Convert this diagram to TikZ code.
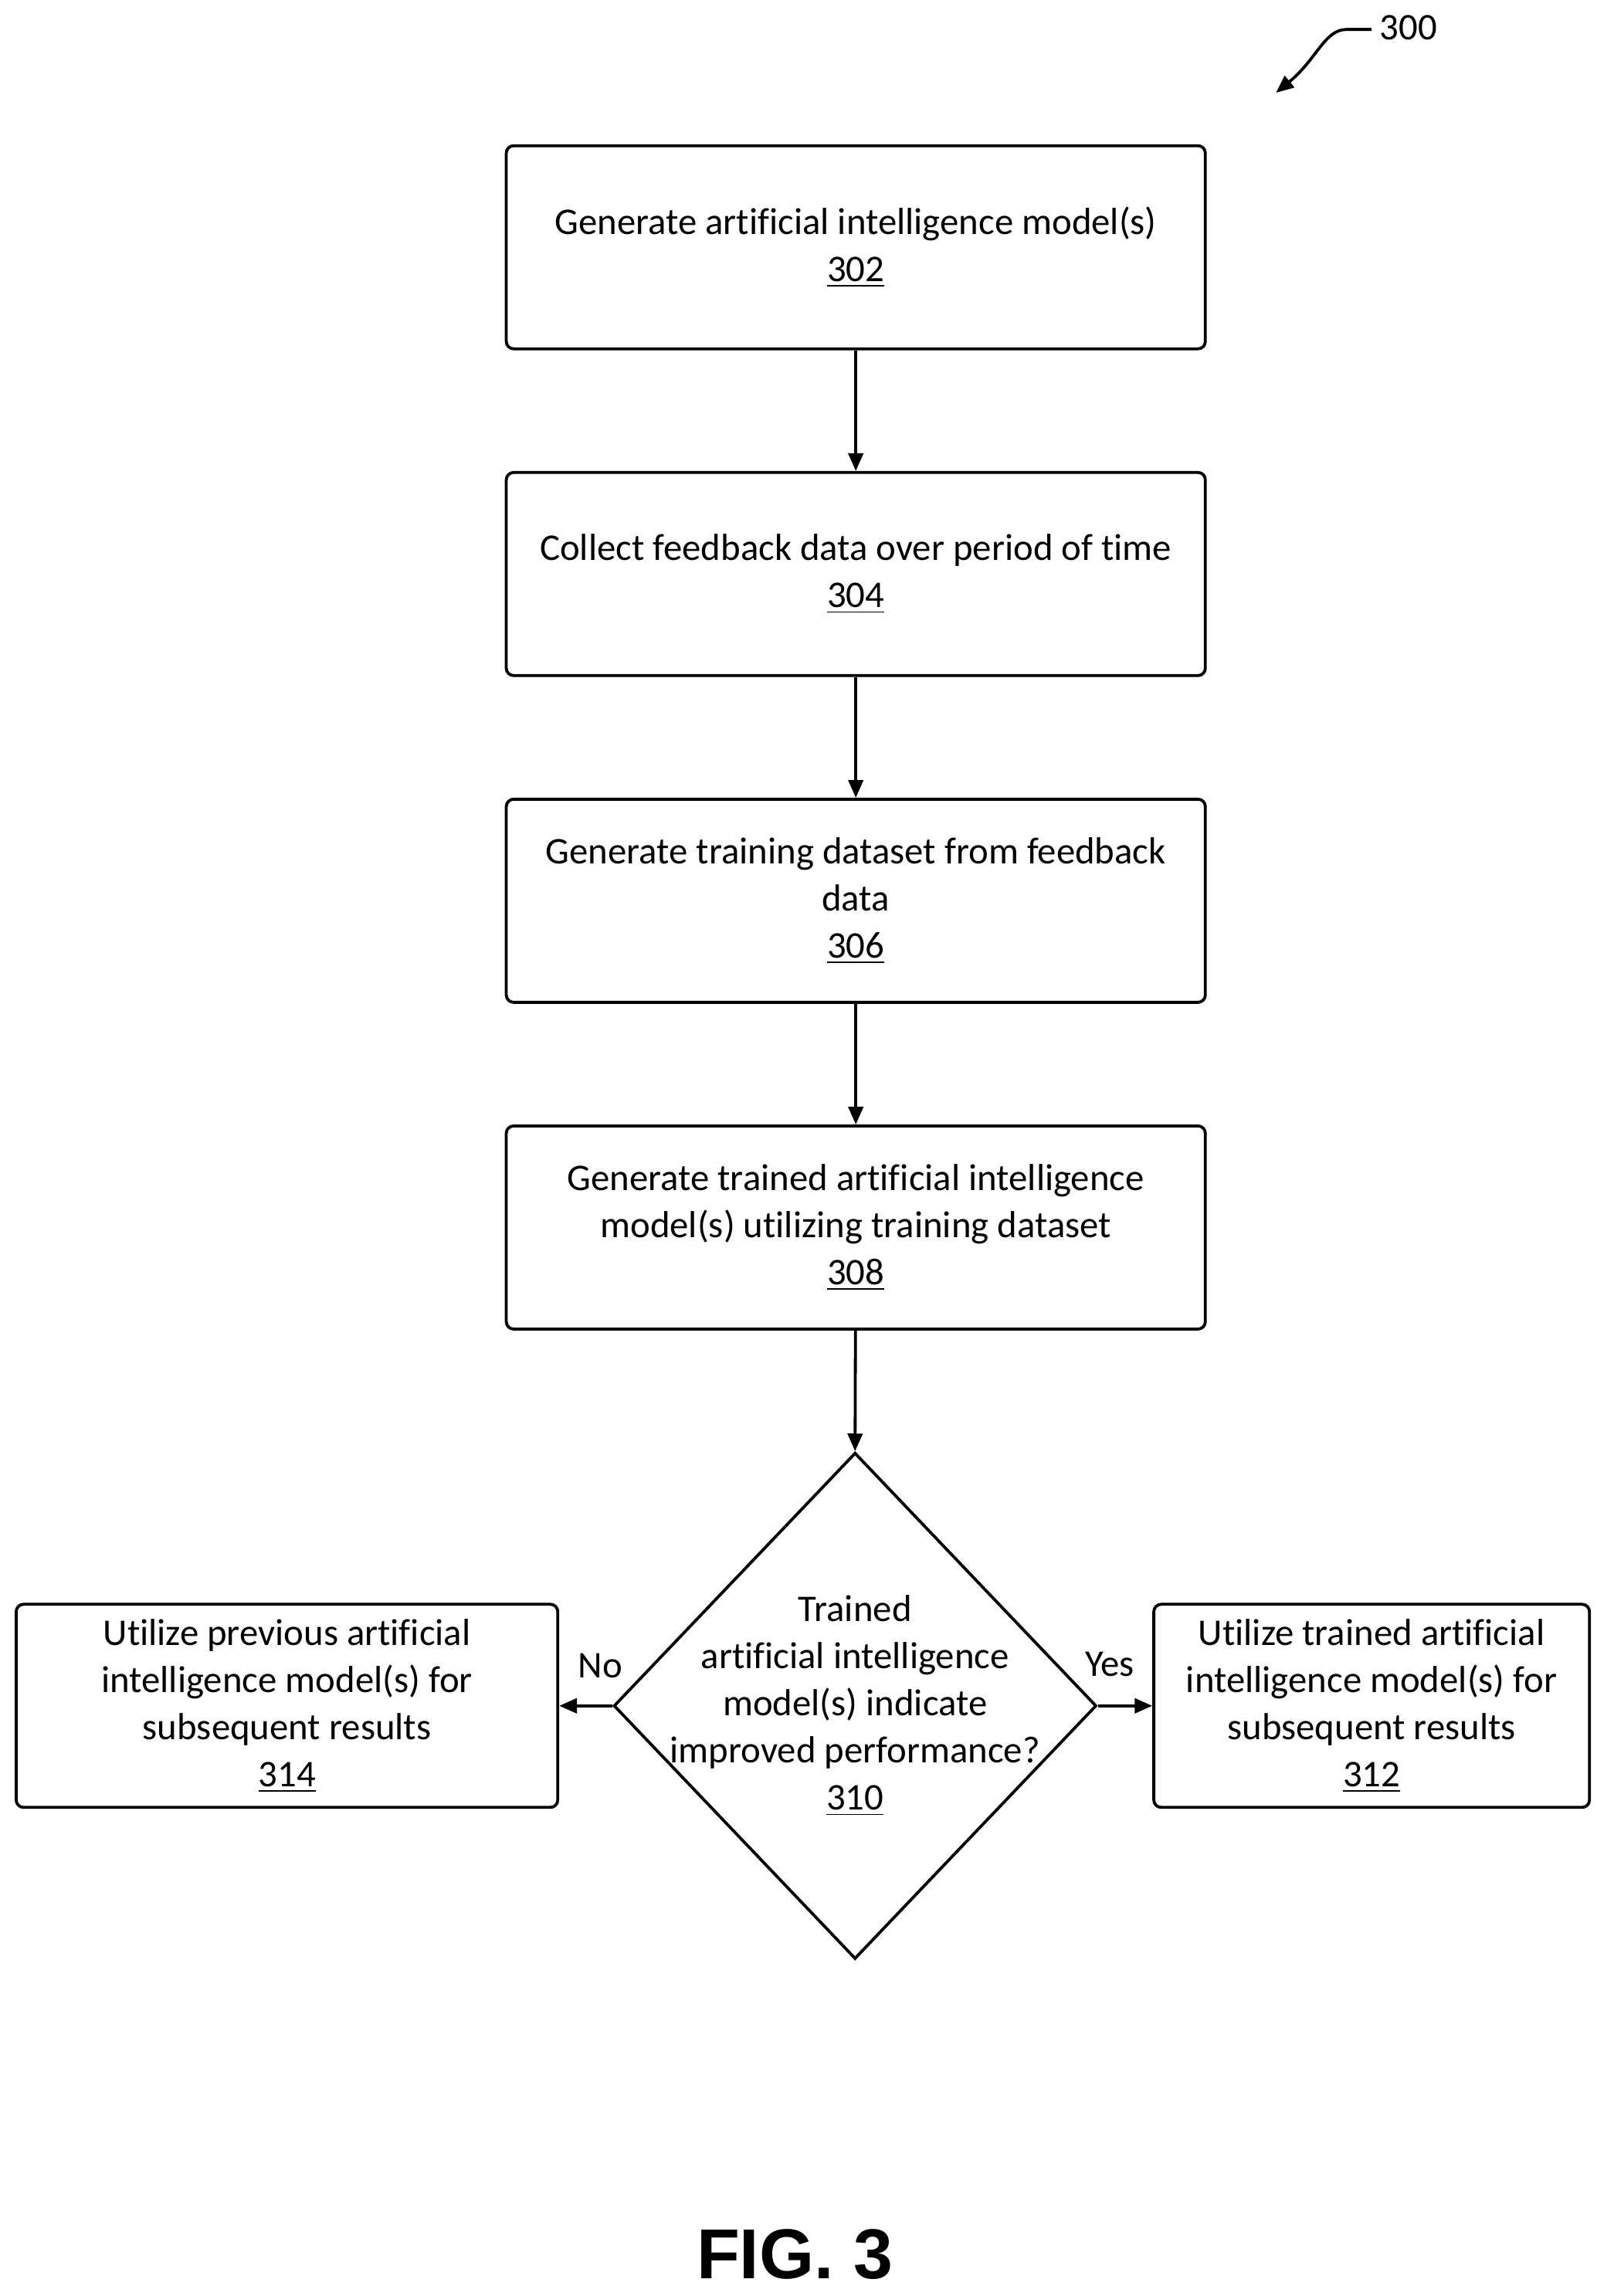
\documentclass[tikz,border=0pt]{standalone}
\usepackage{fontspec}
\setmainfont{Carlito}[Ligatures={NoCommon}]
\newfontfamily\figfont{Liberation Sans}
\usetikzlibrary{shapes.geometric,arrows.meta}
\begin{document}
\begin{tikzpicture}[x=0.5pt,y=-0.5pt,
  box/.style={draw,line width=1pt,rounded corners=2.5pt,inner sep=0pt,align=center,font=\fontsize{12.8}{16}\selectfont},
  txt/.style={align=center,font=\fontsize{12.8}{16}\selectfont,inner sep=0pt},
  arr/.style={line width=1pt,-{Triangle[length=6pt,width=5pt]}}]
\useasboundingbox (0,0) rectangle (1085,1560);
\node[box,minimum width=237.5pt,minimum height=69pt] (b302) at (581.5,168) {Generate artificial intelligence model(s)\\\underline{302}};
\node[box,minimum width=237.5pt,minimum height=69pt] (b304) at (581.5,390) {Collect feedback data over period of time\\\underline{304}};
\node[box,minimum width=237.5pt,minimum height=69pt] (b306) at (581.5,612) {Generate training dataset from feedback\\data\\\underline{306}};
\node[box,minimum width=237.5pt,minimum height=69pt] (b308) at (581.5,834) {Generate trained artificial intelligence\\model(s) utilizing training dataset\\\underline{308}};
\node[draw,line width=1pt,diamond,minimum width=164pt,minimum height=172pt,inner sep=0pt] (d) at (581,1159) {};
\node[txt] (dt) at (581,1159) {Trained\\artificial intelligence\\model(s) indicate\\improved performance?\\\underline{310}};
\node[box,minimum width=184pt,minimum height=69pt] (b314) at (195,1159) {Utilize previous artificial\\intelligence model(s) for\\subsequent results\\\underline{314}};
\node[box,minimum width=148pt,minimum height=69pt] (b312) at (932,1159) {Utilize trained artificial\\intelligence model(s) for\\subsequent results\\\underline{312}};
\draw[arr] (b302) -- (b304);
\draw[arr] (b304) -- (b306);
\draw[arr] (b306) -- (b308);
\draw[arr] (b308) -- (d.north);
\draw[arr] (d.west) -- (b314);
\draw[arr] (d.east) -- (b312);
\node[txt] (no) at (408,1132) {No};
\node[txt] (yes) at (754,1131) {Yes};
\node[txt] (n300) at (957,19) {300};
\coordinate (c1) at (932,20);
\draw[arr] (c1) -- (915,20) .. controls (900,20) and (895,40) .. (867,63);
\node[font=\figfont\bfseries\fontsize{24}{28}\selectfont,anchor=base,inner sep=0pt] (fig) at (540,1548) {FIG. 3};
\end{tikzpicture}
\end{document}
